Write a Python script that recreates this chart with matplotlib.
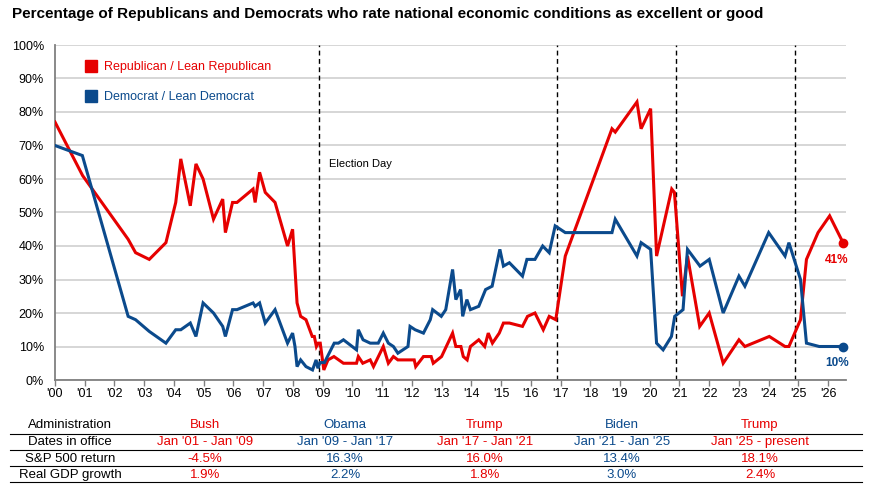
import matplotlib
matplotlib.use("Agg")
import matplotlib.pyplot as plt
from matplotlib.lines import Line2D

plt.rcParams['font.family'] = ['Liberation Sans', 'DejaVu Sans']

RED = "#E60000"
BLUE = "#0B4A8C"

# =========================
# data
# =========================
rep_x = [0.0, 0.93, 2.46, 2.71, 3.17, 3.73, 4.06, 4.23, 4.55, 4.74, 4.98, 5.33, 5.64, 5.73,
         5.97, 6.12, 6.66, 6.73, 6.88, 7.07, 7.4, 7.82, 7.99, 8.14, 8.26, 8.44, 8.65, 8.72,
         8.79, 8.85, 8.92, 9.04, 9.18, 9.38, 9.7, 10.14, 10.2, 10.35, 10.6, 10.71, 11.04,
         11.21, 11.38, 11.53, 12.08, 12.13, 12.39, 12.65, 12.72, 13.0, 13.37, 13.48, 13.65,
         13.73, 13.86, 13.97, 14.25, 14.45, 14.57, 14.71, 14.94, 15.08, 15.28, 15.72, 15.89,
         16.14, 16.42, 16.62, 16.84, 17.16, 18.73, 18.84, 19.57, 19.71, 20.03, 20.23, 20.74,
         20.83, 21.1, 21.27, 21.68, 22.0, 22.47, 23.0, 23.2, 24.02, 24.55, 24.68, 25.07,
         25.27, 25.66, 26.05, 26.5]
rep_y = [77, 61, 42, 38, 36, 41, 53, 66, 52, 64.5, 60, 48, 54, 44,
         53, 53, 57, 53, 62, 56, 53, 40, 45, 23, 19, 18, 13, 13,
         10, 11, 11, 3, 6, 7, 5, 5, 7, 5, 6, 4, 10,
         5, 7, 6, 6, 4, 7, 7, 5, 7, 14, 10, 10,
         7, 6, 10, 12, 10, 14, 11, 14, 17, 17, 16, 19,
         20, 15, 19, 18, 37, 75, 74, 83, 75, 81, 37, 57,
         56, 25, 37, 16, 20, 5, 12, 10, 13, 10, 10, 18,
         36, 44, 49, 41]

dem_x = [0.0, 0.92, 2.46, 2.71, 3.17, 3.73, 4.06, 4.23, 4.55, 4.74, 4.98, 5.33, 5.64, 5.73,
         5.97, 6.12, 6.66, 6.73, 6.88, 7.07, 7.4, 7.82, 7.99, 8.07, 8.14, 8.26, 8.44, 8.66,
         8.78, 8.84, 8.91, 9.06, 9.39, 9.53, 9.7, 10.14, 10.2, 10.36, 10.6, 10.87, 11.04,
         11.21, 11.38, 11.53, 11.87, 11.94, 12.11, 12.39, 12.62, 12.7, 12.99, 13.14, 13.37,
         13.48, 13.64, 13.71, 13.85, 13.97, 14.25, 14.48, 14.7, 14.96, 15.08, 15.28, 15.72,
         15.87, 16.14, 16.4, 16.62, 16.82, 17.16, 18.73, 18.84, 19.57, 19.71, 20.03, 20.23,
         20.45, 20.73, 20.84, 21.12, 21.27, 21.69, 22.0, 22.47, 23.0, 23.2, 24.0, 24.55,
         24.68, 25.07, 25.27, 25.7, 26.5]
dem_y = [70, 67, 19, 18, 14.5, 11, 15, 15, 17, 13, 23, 20, 16, 13,
         21, 21, 23, 22, 23, 17, 21, 11, 14, 10, 4, 6, 4, 3,
         6, 3.5, 5.2, 5.2, 11, 11, 12, 9, 15, 12, 11, 11, 14,
         11, 10, 8, 10, 16, 15, 14, 18, 21, 19, 21, 33,
         24, 27, 19, 24, 21, 22, 27, 28, 39, 34, 35, 31,
         36, 36, 40, 38, 46, 44, 44, 48, 37, 41, 39, 11,
         9, 13, 19, 21, 39, 34, 36, 20, 31, 28, 44, 37,
         41, 30, 11, 10, 10]

year_ticks = list(range(0, 27))
year_labels = ["'%02d" % y for y in year_ticks]
election_days = [8.87, 16.87, 20.9, 24.88]

# table
admin_names = ["Bush", "Obama", "Trump", "Biden", "Trump"]
admin_dates = ["Jan '01 - Jan '09", "Jan '09 - Jan '17", "Jan '17 - Jan '21",
               "Jan '21 - Jan '25", "Jan '25 - present"]
sp500_return = ["-4.5%", "16.3%", "16.0%", "13.4%", "18.1%"]
gdp_growth = ["1.9%", "2.2%", "1.8%", "3.0%", "2.4%"]
admin_colors = [RED, BLUE, RED, BLUE, RED]
row_labels = ["Administration", "Dates in office", "S&P 500 return", "Real GDP growth"]

# =========================
# chart
# =========================
W, H = 879, 498
fig = plt.figure(figsize=(W / 100, H / 100), dpi=100)
ax = fig.add_axes([55 / W, 118 / H, 791 / W, 335 / H])

ax.plot(rep_x, rep_y, color=RED, lw=2.2, solid_joinstyle="miter", zorder=3)
ax.plot(dem_x, dem_y, color=BLUE, lw=2.2, solid_joinstyle="miter", zorder=3)
ax.plot(rep_x[-1], rep_y[-1], "o", color=RED, ms=6, clip_on=False, zorder=4)
ax.plot(dem_x[-1], dem_y[-1], "o", color=BLUE, ms=6, clip_on=False, zorder=4)
ax.text(rep_x[-1] - 0.2, rep_y[-1] - 5.3, "%d%%" % rep_y[-1], color=RED,
        fontsize=8.5, fontweight="bold", ha="center", va="center")
ax.text(dem_x[-1] - 0.2, dem_y[-1] - 4.8, "%d%%" % dem_y[-1], color=BLUE,
        fontsize=8.5, fontweight="bold", ha="center", va="center")

for xd in election_days:
    ax.axvline(xd, color="black", lw=1.0, ls=(0, (3.5, 2.5)), zorder=2)
ax.text(election_days[0] + 0.33, 64.5, "Election Day", fontsize=8, va="center")

ax.set_xlim(0, 26.6)
ax.set_ylim(0, 100)
ax.set_xticks(year_ticks)
ax.set_xticklabels(year_labels, fontsize=9)
ax.set_yticks(range(0, 101, 10))
ax.set_yticklabels(["%d%%" % v for v in range(0, 101, 10)], fontsize=9)
ax.tick_params(axis="y", length=0, pad=8)
ax.tick_params(axis="x", length=4, width=1, color="#808080", pad=2)
ax.grid(axis="y", color="#CFCFCF", lw=1.2)
ax.set_axisbelow(True)
for s in ["top", "right"]:
    ax.spines[s].set_visible(False)
for s in ["left", "bottom"]:
    ax.spines[s].set_color("#808080")
    ax.spines[s].set_linewidth(1.3)

handles = [Line2D([], [], marker="s", ls="", color=RED, ms=8),
           Line2D([], [], marker="s", ls="", color=BLUE, ms=8)]
ax.legend(handles, ["Republican / Lean Republican", "Democrat / Lean Democrat"],
          loc="upper left", bbox_to_anchor=(0.025, 0.985), frameon=False, fontsize=9,
          labelspacing=1.45, handlelength=0.8, handletextpad=0.6,
          labelcolor=[RED, BLUE])

fig.text(12 / W, 1 - 14 / H,
         "Percentage of Republicans and Democrats who rate national economic conditions as excellent or good",
         fontsize=11, fontweight="bold", va="center", ha="left")

# =========================
# table under the chart
# =========================
narrow = ["Liberation Sans Narrow", "Liberation Sans", "DejaVu Sans"]
col_x = [205, 345, 485, 622, 760]
row_y = [425, 442, 459, 475]
rows = [admin_names, admin_dates, sp500_return, gdp_growth]

for r, label in enumerate(row_labels):
    fig.text(70 / W, 1 - row_y[r] / H, label, fontsize=9.5, family=narrow,
             ha="center", va="center")
    for c, val in enumerate(rows[r]):
        fig.text(col_x[c] / W, 1 - row_y[r] / H, val, fontsize=9.5, family=narrow,
                 color=admin_colors[c], ha="center", va="center")

for yl in [434, 450, 466, 482]:
    fig.add_artist(Line2D([10 / W, 862 / W], [1 - yl / H, 1 - yl / H],
                          color="black", lw=0.8))

fig.savefig("out.png", dpi=100)
